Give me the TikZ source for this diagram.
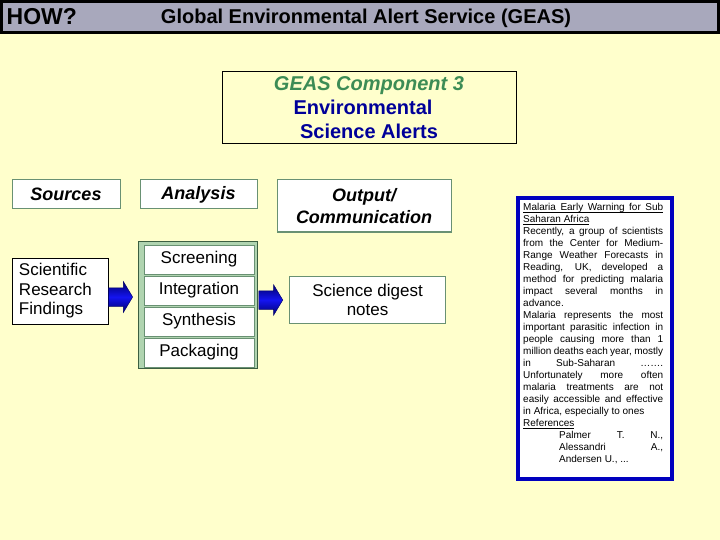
\documentclass[tikz,border=0pt]{standalone}
\usepackage{fontspec}
\setmainfont{Liberation Sans}
\usetikzlibrary{positioning,shapes.arrows}
\definecolor{paper}{RGB}{255,255,204}
\definecolor{barGray}{RGB}{168,168,188}
\definecolor{frameGreen}{RGB}{105,145,115}
\definecolor{groupGreen}{RGB}{176,212,176}
\definecolor{groupEdge}{RGB}{60,95,65}
\definecolor{compGreen}{RGB}{60,140,85}
\definecolor{alertBlue}{RGB}{0,0,153}
\definecolor{noteBlue}{RGB}{0,0,190}
\definecolor{arrowBlue}{RGB}{20,20,240}
\definecolor{arrowDark}{RGB}{0,0,110}
\newcommand{\jline}[1]{\makebox[\linewidth][s]{#1}\par}
\newcommand{\ulbox}[1]{\leavevmode\setbox0\hbox{#1}\rlap{\rule[-1.4pt]{\wd0}{0.6pt}}\box0\par}

\begin{document}
\begin{tikzpicture}[x=1pt,y=-1pt,
    headbar/.style={draw=black,line width=3pt,fill=barGray,minimum width=717pt,minimum height=31pt,inner sep=0pt},
    headtext/.style={font=\fontsize{20}{24}\selectfont\bfseries,inner sep=0pt},
    alertbox/.style={draw=black,line width=1pt,minimum width=294pt,minimum height=72pt,align=center,font=\fontsize{20}{24}\selectfont\bfseries},
    labelbox/.style={draw=frameGreen,line width=1pt,fill=white,minimum height=29pt,align=center,inner sep=0pt,font=\fontsize{18}{22}\selectfont\bfseries\itshape},
    sourcebox/.style={draw=black,line width=0.8pt,fill=white,minimum width=96pt,minimum height=66pt,text width=82pt,align=left,font=\fontsize{17}{19.5}\selectfont},
    groupbox/.style={draw=groupEdge,line width=1pt,fill=groupGreen,minimum width=119pt,minimum height=127pt},
    stagebox/.style={draw=frameGreen,line width=1pt,fill=white,minimum width=110pt,minimum height=29pt,inner sep=0pt,font=\fontsize{17}{20}\selectfont},
    digestbox/.style={draw=frameGreen,line width=1pt,fill=white,minimum width=156pt,minimum height=47pt,align=center,font=\fontsize{17}{19}\selectfont},
    blockarrow/.style={single arrow,draw=arrowDark,line width=0.5pt,top color=arrowDark,bottom color=arrowDark,middle color=arrowBlue,
      inner sep=0pt,inner ysep=9pt,minimum height=24pt,single arrow head extend=6pt,single arrow tip angle=118},
    notebox/.style={draw=noteBlue,line width=4pt,fill=white,minimum width=154pt,minimum height=281pt},
    notetext/.style={text width=140pt,inner sep=0pt,align=justify,font=\fontsize{10}{12}\selectfont}
]
\fill[paper] (0,0) rectangle (720,540);
\useasboundingbox (0,0) rectangle (720,540);

% title bar
\node[headbar] (bar) at (360,17) {};
\node[headtext,font=\fontsize{23}{26}\selectfont\bfseries,right=6.5pt of bar.west] (how) {HOW?};
\node[headtext] (title) at (366,18) {Global Environmental Alert Service (GEAS)};

\node[alertbox] (geas) at (369,108) {{\color{compGreen}\itshape GEAS Component 3}\\
  {\color{alertBlue}Environmental\hspace*{12pt}}\\{\color{alertBlue}Science Alerts}};

% column heads
\node[labelbox,minimum width=108pt] (sources) at (66,194.5) {Sources};
\node[labelbox,minimum width=117pt,right=19pt of sources] (analysis) {Analysis};
\node[labelbox,minimum width=174pt,minimum height=52pt] (output) at (364,206) {Output/\\Communication};

% flow
\node[sourcebox] (findings) at (60,291) {Scientific\\Research\\Findings};
\node[groupbox] (group) at (197.5,304.5) {};
\node[stagebox] (screening) at (199,259.5) {Screening};
\node[stagebox,below=1pt of screening] (integration) {Integration};
\node[stagebox,below=1pt of integration] (synthesis) {Synthesis};
\node[stagebox,below=1pt of synthesis] (packaging) {Packaging};
\node[blockarrow,right=0pt of findings,yshift=-6pt] (arrin) {};
\node[blockarrow,right=1pt of group,yshift=4.5pt] (arrout) {};
\node[digestbox,right=6pt of arrout] (digest) {Science digest\\notes};

% example note
\node[notebox] (malaria) at (595,338.5) {};
\node[notetext,below right=7.5pt and 7pt of malaria.north west] (malariatext) {%
\ulbox{\makebox[\linewidth][s]{Malaria Early Warning for Sub}}
\ulbox{Saharan Africa}
\jline{Recently, a group of scientists}
\jline{from the Center for Medium-}
\jline{Range Weather Forecasts in}
\jline{Reading, UK, developed a}
\jline{method for predicting malaria}
\jline{impact several months in}
advance.\par
\jline{Malaria represents the most}
\jline{important parasitic infection in}
\jline{people causing more than 1}
\jline{million deaths each year, mostly}
\jline{in Sub-Saharan …….}
\jline{Unfortunately more often}
\jline{malaria treatments are not}
\jline{easily accessible and effective}
in Africa, especially to ones\par
\ulbox{References}
\hspace*{36pt}\makebox[104pt][s]{Palmer T. N.,}\par
\hspace*{36pt}\makebox[104pt][s]{Alessandri A.,}\par
\hspace*{36pt}Andersen U., ...\par};
\end{tikzpicture}
\end{document}
